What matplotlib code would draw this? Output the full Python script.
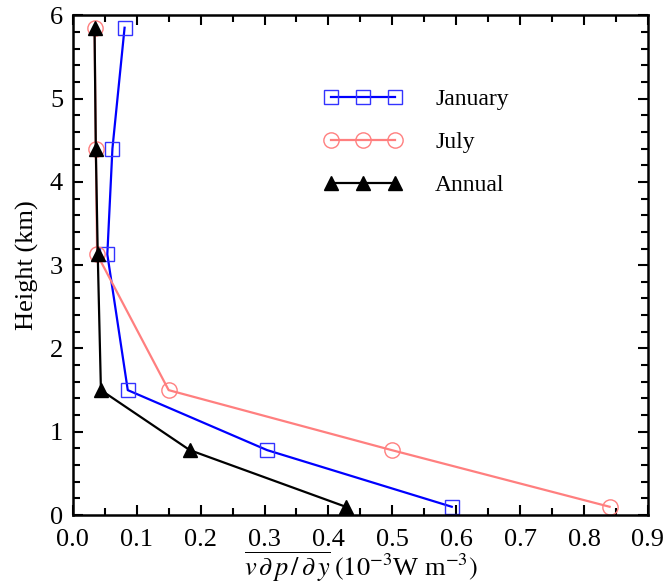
import matplotlib
matplotlib.use("Agg")
import matplotlib.pyplot as plt
from matplotlib.ticker import MultipleLocator

plt.rcParams['font.family'] = ['Liberation Serif', 'DejaVu Serif']
plt.rcParams['mathtext.fontset'] = 'stix'

heights = [5.85, 4.4, 3.13, 1.5, 0.78, 0.1]
january = [0.081, 0.062, 0.054, 0.086, 0.304, 0.593]
july = [0.034, 0.036, 0.038, 0.150, 0.499, 0.840]
annual = [0.034, 0.036, 0.039, 0.044, 0.183, 0.427]

fig = plt.figure(figsize=(6.68, 5.86), dpi=100)
ax = fig.add_axes([0.109, 0.121, 0.861, 0.853])

ax.plot(january, heights, color='#0000ff', lw=1.6, marker='s', ms=9.5,
        mfc='none', mec='#3333ff', mew=1.0, label='January')
ax.plot(july, heights, color='#ff7f7f', lw=1.6, marker='o', ms=11,
        mfc='none', mec='#ff7f7f', mew=1.0, label='July')
ax.plot(annual, heights, color='black', lw=1.6, marker='^', ms=10,
        mfc='black', mec='black', label='Annual')

ax.set_xlim(0, 0.9)
ax.set_ylim(0, 6)
ax.xaxis.set_major_locator(MultipleLocator(0.1))
ax.xaxis.set_minor_locator(MultipleLocator(0.05))
ax.yaxis.set_major_locator(MultipleLocator(1))
ax.yaxis.set_minor_locator(MultipleLocator(0.2))
ax.tick_params(which='both', direction='in', top=True, right=True, width=1.5,
               labelsize=19)
ax.tick_params(axis='x', pad=10)
ax.tick_params(axis='y', pad=7)
ax.tick_params(which='major', length=7)
ax.tick_params(which='minor', length=5)
for s in ax.spines.values():
    s.set_linewidth(1.8)

ax.set_xticklabels([f'{v:.1f}' for v in ax.get_xticks()])
ax.set_xlabel(r'$\overline{v\,\partial\, p\,/\,\partial\, y}\;(10^{-3}$W m$^{-3})$',
              fontsize=19, labelpad=-1)
ax.set_ylabel('Height (km)', fontsize=19, labelpad=8)

leg = ax.legend(loc='upper left', bbox_to_anchor=(0.40, 0.895), frameon=False,
                numpoints=3, fontsize=17, handlelength=3.3, handletextpad=1.4,
                labelspacing=0.9)

fig.savefig('out.png', dpi=100)
